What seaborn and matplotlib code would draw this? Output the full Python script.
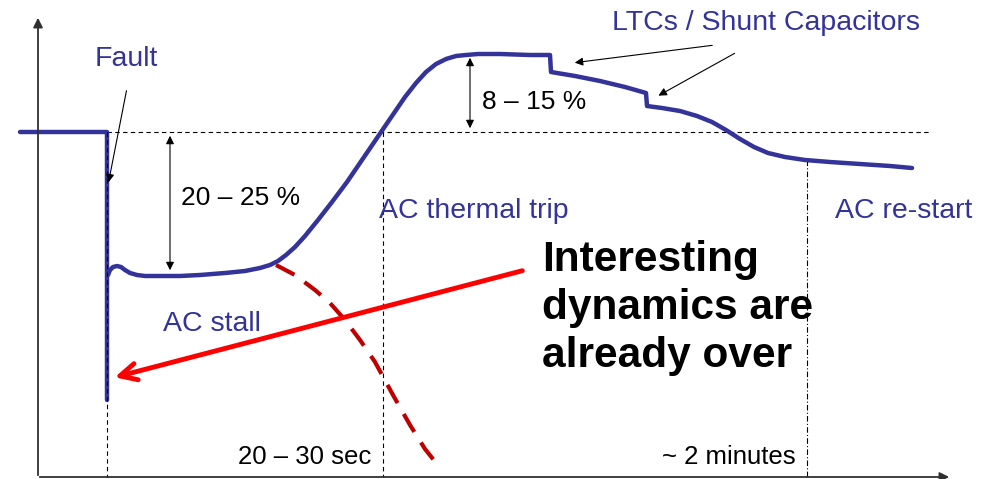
import matplotlib
matplotlib.use("Agg")
import matplotlib.pyplot as plt
import seaborn as sns
import pandas as pd
import numpy as np

sns.set_style("white")
plt.rcParams['font.family'] = ['Liberation Sans', 'DejaVu Sans']

# Conceptual voltage curve (pixel-space coordinates)
pre_x = [20, 107, 107]
pre_y = [132, 132, 400]
volt_x = [108, 110, 113, 117, 121, 125, 130, 137, 145, 160, 180, 200, 225, 245, 260, 270, 278, 286, 295, 305, 318, 332, 347, 362, 377, 392, 405, 416, 426, 436, 446, 456, 466, 478, 500, 530, 550, 551,
          575, 600, 625, 646, 647, 662, 680, 697, 712, 726, 740, 754, 768, 785, 805, 830, 860, 890, 912]
volt_y = [275, 270, 267, 266, 267, 270, 273, 275, 276, 276, 276, 275, 273, 271, 268, 265, 261, 255, 247, 236, 220, 202, 182, 160, 138, 116, 97, 83, 72, 64, 59, 56, 55, 54, 54, 55, 55, 72,
          76, 81, 87, 93, 106, 108, 111, 116, 122, 130, 139, 147, 153, 157, 160, 162, 164, 166, 168]
stall_x = [276, 295, 315, 330, 345, 360, 375, 393, 410, 425, 437]
stall_y = [265, 275, 290, 303, 320, 340, 362, 395, 425, 449, 464]

fig = plt.figure(figsize=(9.99, 4.79), dpi=100)
ax = fig.add_axes([0, 0, 1, 1])
ax.set_xlim(0, 999)
ax.set_ylim(479, 0)
ax.axis("off")

blue = "#333399"
darkred = "#C00000"

# axes arrows
ax.annotate("", xy=(38, 15), xytext=(38, 478),
            arrowprops=dict(arrowstyle="-|>", color="#303030", lw=1.3, mutation_scale=14))
ax.annotate("", xy=(952, 477), xytext=(37, 477),
            arrowprops=dict(arrowstyle="-|>", color="#303030", lw=1.3, mutation_scale=14))

# reference dashed lines
ax.plot([107, 930], [132, 132], ls=(0, (4, 3)), color="black", lw=0.8)
ax.plot([383, 383], [132, 477], ls=(0, (4, 3)), color="black", lw=0.8)
ax.plot([807, 807], [160, 477], ls=(0, (5, 2, 1, 2)), color="black", lw=0.8)

# curves
sns.lineplot(x=pre_x, y=pre_y, sort=False, estimator=None, color=blue, lw=3.2, ax=ax)
sns.lineplot(x=volt_x, y=volt_y, sort=False, estimator=None, color=blue, lw=3.2, ax=ax)
sns.lineplot(x=stall_x, y=stall_y, sort=False, estimator=None, color=darkred, lw=3,
             ax=ax, linestyle=(0, (5, 3)))
ax.plot([107, 107], [132, 477], ls=(0, (4, 3)), color="black", lw=0.8)

# double arrows
ax.annotate("", xy=(170, 133), xytext=(170, 273),
            arrowprops=dict(arrowstyle="<|-|>", color="black", lw=0.8, mutation_scale=12))
ax.annotate("", xy=(470, 55), xytext=(470, 131),
            arrowprops=dict(arrowstyle="<|-|>", color="black", lw=0.8, mutation_scale=12))
ax.text(181, 198, "20 – 25 %", fontsize=19, va="center", ha="left", color="black")
ax.text(482, 102, "8 – 15 %", fontsize=19, va="center", ha="left", color="black")

# Fault
ax.text(126, 59, "Fault", fontsize=20.5, color=blue, ha="center", va="center")
ax.annotate("", xy=(108, 185), xytext=(127, 88),
            arrowprops=dict(arrowstyle="-|>", color="black", lw=0.8, mutation_scale=12))

# LTCs
ax.text(766, 23, "LTCs / Shunt Capacitors", fontsize=20.5, color=blue, ha="center", va="center")
ax.annotate("", xy=(572, 63), xytext=(715, 45),
            arrowprops=dict(arrowstyle="-|>", color="black", lw=0.8, mutation_scale=12))
ax.annotate("", xy=(656, 97), xytext=(737, 52),
            arrowprops=dict(arrowstyle="-|>", color="black", lw=0.8, mutation_scale=12))

ax.text(379, 211, "AC thermal trip", fontsize=20.5, color=blue, ha="left", va="center")
ax.text(835, 211, "AC re-start", fontsize=20.5, color=blue, ha="left", va="center")
ax.text(163, 324, "AC stall", fontsize=20.5, color=blue, ha="left", va="center")

ax.text(371, 457, "20 – 30 sec", fontsize=18.5, color="black", ha="right", va="center")
ax.text(796, 457, "~ 2 minutes", fontsize=18.5, color="black", ha="right", va="center")

# red arrow
ax.annotate("", xy=(112, 378), xytext=(525, 270),
            arrowprops=dict(arrowstyle="->", color="#FF0000", lw=3.5, mutation_scale=30))

ax.text(542, 308, "Interesting\ndynamics are\nalready over", fontsize=30.5, fontweight="bold",
        color="black", ha="left", va="center", linespacing=1.25)

fig.savefig("out.png", dpi=100)
